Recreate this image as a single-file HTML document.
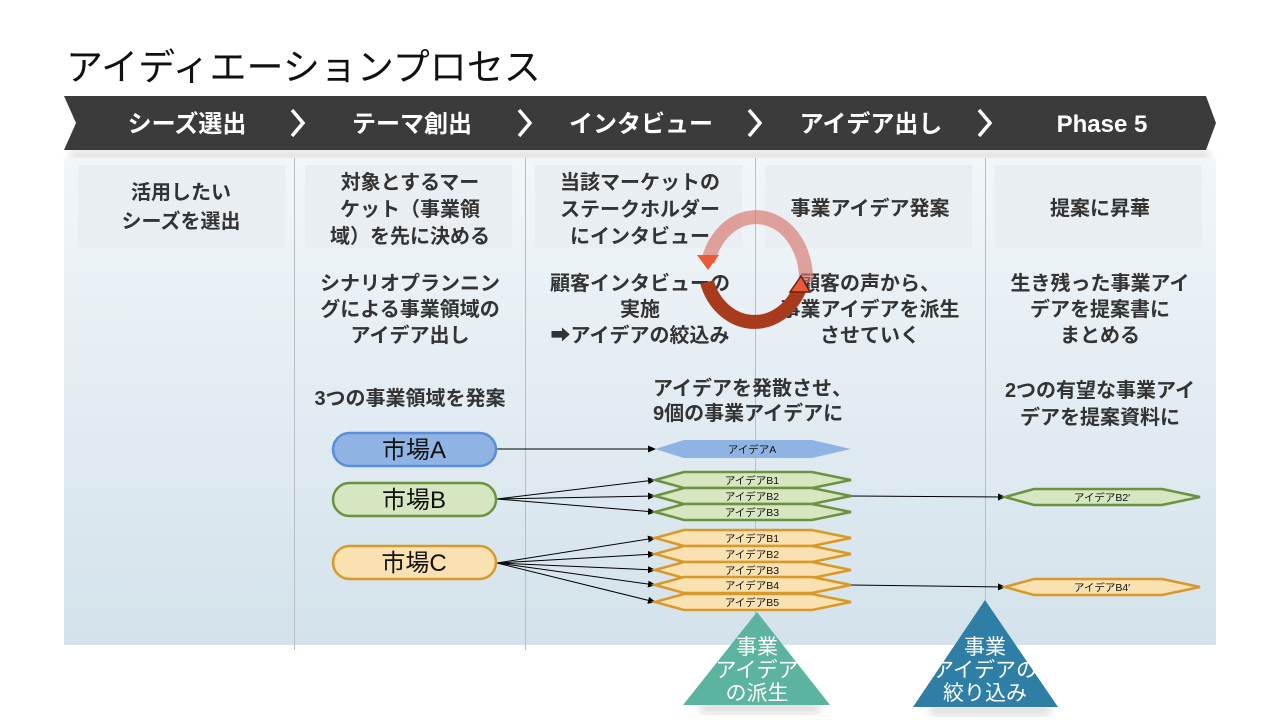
<!DOCTYPE html>
<html><head><meta charset="utf-8"><style>
body{margin:0;width:1280px;height:720px;overflow:hidden;background:#fff}
svg{display:block}
text{font-family:"Liberation Sans","Noto Sans CJK JP",sans-serif}
.h{fill:#fff;font-size:24px;font-weight:bold;text-anchor:middle}
.t{fill:#333;font-size:20px;font-weight:bold;text-anchor:middle}
.s{fill:#111;font-size:10.5px;text-anchor:middle}
.m{fill:#111;font-size:24px;text-anchor:middle}
.w{fill:#fff;font-size:21px;text-anchor:middle}
</style></head><body>
<svg width="1280" height="720" viewBox="0 0 1280 720">
<defs>
<linearGradient id="bg" x1="0" y1="0" x2="0" y2="1"><stop offset="0" stop-color="#f2f6f9"/><stop offset="1" stop-color="#d3e2eb"/></linearGradient>
<marker id="ar" markerWidth="8" markerHeight="8" refX="7" refY="4" orient="auto" markerUnits="userSpaceOnUse"><path d="M0,0.5 L8,4 L0,7.5z" fill="#000"/></marker>
<filter id="sh"><feGaussianBlur stdDeviation="4"/></filter>
</defs>
<text x="66" y="80" font-size="37" fill="#111">アイディエーションプロセス</text>
<rect x="70" y="150" width="1140" height="10" fill="#ccc" filter="url(#sh)" opacity="0.6"/>
<rect x="64" y="158" width="1152" height="487" fill="url(#bg)"/>
<path d="M64,96 L1206,96 L1216,123 L1206,150 L64,150 L76,123z" fill="#3b3b3b"/>
<text class="h" x="187" y="132">シーズ選出</text>
<text class="h" x="412" y="132">テーマ創出</text>
<text class="h" x="641" y="132">インタビュー</text>
<text class="h" x="871" y="132">アイデア出し</text>
<text class="h" x="1102" y="132">Phase 5</text>
<g stroke="#fff" stroke-width="3.5" fill="none">
<path d="M292,110 L303,123 L292,136"/><path d="M519,110 L530,123 L519,136"/><path d="M749,110 L760,123 L749,136"/><path d="M979,110 L990,123 L979,136"/></g>
<g fill="#e9eef2"><rect x="78" y="165" width="207" height="83"/><rect x="305" y="165" width="207" height="83"/><rect x="535" y="165" width="207" height="83"/><rect x="765" y="165" width="207" height="83"/><rect x="995" y="165" width="207" height="83"/></g>
<g stroke="#b8bec4" stroke-width="1"><line x1="294.5" y1="158" x2="294.5" y2="650"/><line x1="525.5" y1="158" x2="525.5" y2="650"/><line x1="755.5" y1="158" x2="755.5" y2="645"/><line x1="985.5" y1="158" x2="985.5" y2="645"/></g>
<text class="t" x="181" y="199">活用したい</text><text class="t" x="181" y="228">シーズを選出</text>
<text class="t" x="410" y="189">対象とするマー</text><text class="t" x="410" y="216">ケット（事業領</text><text class="t" x="410" y="243">域）を先に決める</text>
<text class="t" x="640" y="189">当該マーケットの</text><text class="t" x="640" y="216">ステークホルダー</text><text class="t" x="640" y="243">にインタビュー</text>
<text class="t" x="870" y="215">事業アイデア発案</text>
<text class="t" x="1100" y="215">提案に昇華</text>
<text class="t" x="410" y="290">シナリオプランニン</text><text class="t" x="410" y="316">グによる事業領域の</text><text class="t" x="410" y="342">アイデア出し</text>
<text class="t" x="640" y="290">顧客インタビューの</text><text class="t" x="640" y="316">実施</text><text class="t" x="640" y="342">➡アイデアの絞込み</text>
<text class="t" x="870" y="290">顧客の声から、</text><text class="t" x="870" y="316">事業アイデアを派生</text><text class="t" x="870" y="342">させていく</text>
<text class="t" x="1100" y="290">生き残った事業アイ</text><text class="t" x="1100" y="316">デアを提案書に</text><text class="t" x="1100" y="342">まとめる</text>
<text class="t" x="410" y="405">3つの事業領域を発案</text>
<text class="t" x="653" y="395" style="text-anchor:start">アイデアを発散させ、</text><text class="t" x="653" y="420" style="text-anchor:start">9個の事業アイデアに</text>
<text class="t" x="1100" y="397">2つの有望な事業アイ</text><text class="t" x="1100" y="424">デアを提案資料に</text>
<!-- cycle -->
<path d="M806,282 A50,62 0 0 0 708,262" fill="none" stroke="#d9756a" stroke-opacity="0.65" stroke-width="14"/>
<path d="M697,255 L719,255 L708,270z" fill="#e85a3a"/>
<path d="M707,282 A50,58 0 0 0 800,288" fill="none" stroke="#a83a1e" stroke-width="14"/>
<path d="M790,292 L810,292 L801,276z" fill="#e85a3a" stroke="#6a2010" stroke-width="1.5"/>
<!-- arrows -->
<g stroke="#000" stroke-width="1" marker-end="url(#ar)">
<line x1="497" y1="449" x2="655" y2="449"/>
<line x1="497" y1="499" x2="655" y2="480"/><line x1="497" y1="499" x2="655" y2="496"/><line x1="497" y1="499" x2="655" y2="512"/>
<line x1="497" y1="563" x2="655" y2="538"/><line x1="497" y1="563" x2="655" y2="554"/><line x1="497" y1="563" x2="655" y2="570"/><line x1="497" y1="563" x2="655" y2="585"/><line x1="497" y1="563" x2="655" y2="602"/>
<line x1="850" y1="496" x2="1005" y2="497"/><line x1="850" y1="585" x2="1005" y2="587"/>
</g>
<!-- pills -->
<rect x="333" y="433" width="163" height="33" rx="16.5" fill="#8fb4e3" stroke="#5a8ed6" stroke-width="2.5"/>
<text class="m" x="414" y="458">市場A</text>
<rect x="333" y="483" width="163" height="33" rx="16.5" fill="#d5e6c0" stroke="#6c9140" stroke-width="2.5"/>
<text class="m" x="414" y="508">市場B</text>
<rect x="333" y="546" width="163" height="33" rx="16.5" fill="#f9e1b2" stroke="#d9982a" stroke-width="2.5"/>
<text class="m" x="414" y="571">市場C</text>
<!-- hexes -->
<path d="M655,449 L684,440 L812,440 L851,449 L812,458 L684,458z" fill="#8fb4e3"/>
<text class="s" x="752" y="453">アイデアA</text>
<g fill="#d5e6c0" stroke="#6c9140" stroke-width="2.5">
<path d="M655,480 L684,472 L812,472 L851,480 L812,488 L684,488z"/>
<path d="M655,496 L684,488 L812,488 L851,496 L812,504 L684,504z"/>
<path d="M655,512 L684,504 L812,504 L851,512 L812,520 L684,520z"/>
<path d="M1005,497 L1034,489 L1162,489 L1200,497 L1162,505 L1034,505z"/>
</g>
<g fill="#f9e1b2" stroke="#d9982a" stroke-width="2.5">
<path d="M655,538 L684,530 L812,530 L851,538 L812,546 L684,546z"/>
<path d="M655,554 L684,546 L812,546 L851,554 L812,562 L684,562z"/>
<path d="M655,570 L684,562 L812,562 L851,570 L812,578 L684,578z"/>
<path d="M655,585 L684,577 L812,577 L851,585 L812,593 L684,593z"/>
<path d="M655,602 L684,594 L812,594 L851,602 L812,610 L684,610z"/>
<path d="M1005,587 L1034,579 L1162,579 L1200,587 L1162,595 L1034,595z"/>
</g>
<text class="s" x="752" y="484">アイデアB1</text><text class="s" x="752" y="500">アイデアB2</text><text class="s" x="752" y="516">アイデアB3</text>
<text class="s" x="752" y="542">アイデアB1</text><text class="s" x="752" y="558">アイデアB2</text><text class="s" x="752" y="574">アイデアB3</text><text class="s" x="752" y="589">アイデアB4</text><text class="s" x="752" y="606">アイデアB5</text>
<text class="s" x="1102" y="501">アイデアB2′</text><text class="s" x="1102" y="591">アイデアB4′</text>
<!-- triangles -->
<rect x="700" y="702" width="120" height="12" fill="#ccc" filter="url(#sh)" opacity="0.6"/>
<rect x="930" y="704" width="120" height="12" fill="#ccc" filter="url(#sh)" opacity="0.6"/>
<path d="M757,612 L830,705 L683,705z" fill="#5bb3a0"/>
<path d="M985,600 L1058,707 L913,707z" fill="#2e7ea6"/>
<text class="w" x="757" y="654">事業</text><text class="w" x="757" y="677">アイデア</text><text class="w" x="757" y="700">の派生</text>
<text class="w" x="985" y="654">事業</text><text class="w" x="985" y="677">アイデアの</text><text class="w" x="985" y="700">絞り込み</text>
</svg>
</body></html>
